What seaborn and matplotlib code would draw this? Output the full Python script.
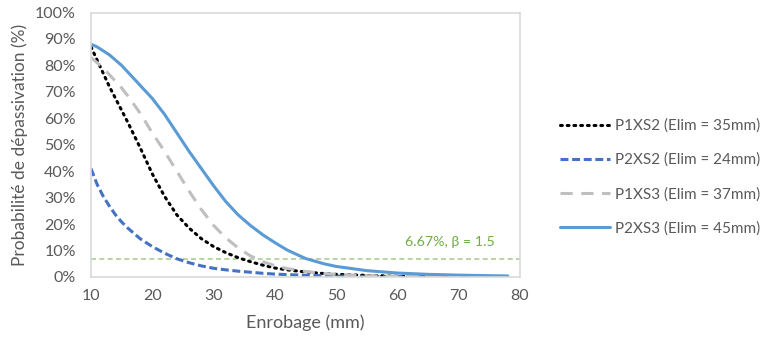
import matplotlib
matplotlib.use("Agg")
import matplotlib.pyplot as plt
import seaborn as sns
import pandas as pd
from matplotlib.ticker import PercentFormatter

# enrobage (mm)
enrobage = [10, 11, 12, 13, 14, 15, 16, 18, 20, 22, 24, 26, 28, 30, 32, 34, 36, 38, 40, 42,
            45, 48, 50, 55, 60, 65, 70, 75, 78]

# probabilite de depassivation (%)
p1xs2 = [87, 82, 77, 72, 67.5, 63, 58.5, 49, 39, 30.5, 23.5, 18.5, 14.5, 11.5, 9.2, 7.3, 5.8, 4.5, 3.4, 2.7,
         1.9, 1.3, 1.0, 0.6, 0.3, 0.2, 0.1, 0.1, 0.1]
p2xs2 = [41, 35, 30.5, 26.8, 23.5, 20.8, 18.5, 14.5, 11.5, 9, 6.9, 5.4, 4.2, 3.3, 2.7, 2.2, 1.8, 1.4, 1.1, 0.9,
         0.65, 0.45, 0.35, 0.2, 0.12, 0.08, 0.05, 0.05, 0.05]
p1xs3 = [83, 81, 79, 76.5, 74, 71.5, 68.5, 62, 54.5, 47.5, 40, 32.5, 25.5, 19.5, 14.8, 11, 8, 5.8, 4.3, 3.2,
         2.1, 1.3, 1.0, 0.5, 0.3, 0.2, 0.1, 0.1, 0.1]
p2xs3 = [88, 87, 85.5, 84, 82, 80, 77.5, 72.5, 67.5, 61.5, 54.5, 47.5, 41, 34.5, 28.5, 23.5, 19.5, 16, 13, 10.2,
         7, 5, 4, 2.4, 1.5, 1.0, 0.7, 0.5, 0.4]

labels = ["P1XS2 (Elim = 35mm)", "P2XS2 (Elim = 24mm)", "P1XS3 (Elim = 37mm)", "P2XS3 (Elim = 45mm)"]
seuil = 6.67

sns.set_style("white")
plt.rcParams['font.family'] = ['Lato', 'DejaVu Sans']
grey = "#595959"

fig = plt.figure(figsize=(7.66, 3.41), dpi=100)
ax = fig.add_axes([0.1188, 0.1877, 0.5601, 0.7756])

ax.axhline(seuil, color="#a9d18e", lw=1.2, linestyle=(0, (3, 2)), zorder=1)

series = [
    (p1xs2, "black", (0, (0.6, 1.6)), 2.2),
    (p2xs2, "#4472c4", (0, (2.6, 1.2)), 2.2),
    (p1xs3, "#bfbfbf", (0, (4, 2.8)), 2.2),
    (p2xs3, "#5b9bd5", "-", 2.2),
]
for (vals, col, ls, lw), lab in zip(series, labels):
    df = pd.DataFrame({"x": enrobage, "y": vals})
    sns.lineplot(data=df, x="x", y="y", ax=ax, color=col, linestyle=ls, lw=lw,
                 label=lab, dash_capstyle="round" if col == "black" else "butt")

ax.text(61.2, 13.2, "6.67%, β = 1.5", color="#70ad47", fontsize=10.3, va="center")

ax.set_xlim(10, 80)
ax.set_ylim(0, 100)
ax.set_xticks(range(10, 81, 10))
ax.set_yticks(range(0, 101, 10))
ax.yaxis.set_major_formatter(PercentFormatter(decimals=0))
ax.tick_params(length=0, labelsize=11.5, labelcolor=grey)
ax.tick_params(axis="x", pad=9)
ax.tick_params(axis="y", pad=11)
for s in ax.spines.values():
    s.set_color("#d9d9d9")
    s.set_linewidth(1.2)

ax.set_xlabel("Enrobage (mm)", fontsize=13, color=grey, labelpad=8)
ax.set_ylabel("Probabilité de dépassivation (%)", fontsize=12.5, color=grey, labelpad=5)

leg = ax.legend(loc="center left", bbox_to_anchor=(1.093, 0.378), frameon=False,
                fontsize=11, handlelength=3.3, labelspacing=1.3, handletextpad=0.3,
                borderpad=0, borderaxespad=0)
for t in leg.get_texts():
    t.set_color(grey)

fig.savefig("out.png", dpi=100)
